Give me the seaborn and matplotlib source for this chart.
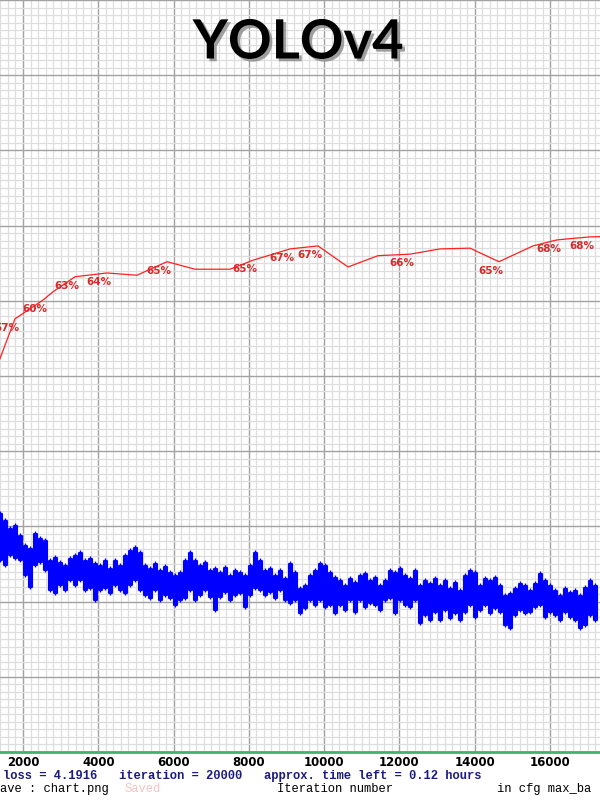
import matplotlib
matplotlib.use("Agg")
import matplotlib.pyplot as plt
import matplotlib.patheffects as pe
from matplotlib.ticker import MultipleLocator
import seaborn as sns

sns.set_theme(style="white")
plt.rcParams['font.family'] = ['DejaVu Sans']

# ---------------- data ----------------
title = "YOLOv4"

map_iter = [1176, 1787, 2531, 2797, 3381, 3727, 4231, 5028, 5825, 6569, 7499, 8110,
            9093, 9836, 10633, 11430, 12280, 13077, 13874, 14644, 15548, 16185, 17062, 17991]
map_pct = [49.5, 57.6, 60.1, 61.2, 63.2, 63.4, 63.7, 63.4, 65.2, 64.2, 64.2, 65.4,
           66.9, 67.3, 64.5, 66.0, 66.2, 66.9, 67.0, 65.2, 67.3, 68.1, 68.5, 68.6]
label_iter = [1787, 2531, 3381, 4231, 5825, 8110, 9093, 9836, 12280, 14644, 16185, 17062]
label_text = ["57%", "60%", "63%", "64%", "65%", "65%", "67%", "67%", "66%", "65%", "68%", "68%"]

loss_iter = [1389, 1522, 1655, 1787, 1920, 2053, 2186, 2319, 2452, 2584,
             2717, 2850, 2983, 3116, 3248, 3381, 3514, 3647, 3780, 3913,
             4045, 4178, 4311, 4444, 4577, 4710, 4842, 4975, 5108, 5241,
             5374, 5506, 5639, 5772, 5905, 6038, 6171, 6303, 6436, 6569,
             6702, 6835, 6967, 7100, 7233, 7366, 7499, 7632, 7764, 7897,
             8030, 8163, 8296, 8428, 8561, 8694, 8827, 8960, 9092, 9225,
             9358, 9491, 9624, 9757, 9889, 10022, 10155, 10288, 10421, 10553,
             10686, 10819, 10952, 11085, 11217, 11350, 11483, 11616, 11749, 11881,
             12014, 12147, 12280, 12413, 12546, 12678, 12811, 12944, 13077, 13210,
             13342, 13475, 13608, 13741, 13874, 14007, 14139, 14272, 14405, 14538,
             14671, 14803, 14936, 15069, 15202, 15335, 15467, 15600, 15733, 15866,
             15999, 16131, 16264, 16397, 16530, 16663, 16795, 16928, 17061, 17194]
loss_hi = [6.36, 6.17, 5.96, 6.04, 5.77, 5.51, 5.43, 5.82, 5.69, 5.64,
           5.11, 5.19, 5.05, 4.97, 5.16, 5.24, 5.32, 5.11, 5.16, 5.03,
           4.97, 5.11, 4.89, 5.11, 4.97, 5.24, 5.37, 5.45, 5.32, 4.97,
           4.89, 5.03, 4.84, 4.95, 4.79, 4.71, 4.79, 5.11, 5.32, 5.11,
           4.97, 5.05, 4.84, 4.89, 4.79, 4.92, 4.71, 4.84, 4.79, 4.71,
           4.97, 5.32, 5.11, 4.84, 4.89, 4.71, 4.84, 4.63, 5.03, 4.79,
           4.36, 4.44, 4.71, 4.84, 5.03, 4.97, 4.79, 4.65, 4.57, 4.44,
           4.63, 4.52, 4.71, 4.76, 4.57, 4.65, 4.44, 4.57, 4.84, 4.79,
           4.89, 4.71, 4.63, 4.84, 4.44, 4.57, 4.49, 4.63, 4.44, 4.57,
           4.36, 4.52, 4.31, 4.71, 4.84, 4.79, 4.44, 4.63, 4.57, 4.65,
           4.44, 4.18, 4.23, 4.36, 4.49, 4.44, 4.31, 4.49, 4.76, 4.57,
           4.44, 4.31, 4.18, 4.36, 4.26, 4.31, 4.18, 4.39, 4.57, 4.44]
loss_lo = [5.11, 4.97, 5.24, 5.16, 5.11, 4.71, 4.39, 4.97, 5.05, 4.84,
           4.31, 4.23, 4.44, 4.31, 4.57, 4.44, 4.57, 4.31, 4.36, 4.04,
           4.31, 4.36, 4.23, 4.44, 4.31, 4.23, 4.44, 4.57, 4.31, 4.18,
           4.10, 4.31, 4.04, 4.18, 4.10, 3.91, 4.04, 4.10, 4.31, 4.04,
           4.18, 4.31, 4.12, 3.78, 4.12, 4.26, 4.04, 4.18, 4.23, 3.86,
           4.18, 4.36, 4.31, 4.18, 4.26, 4.10, 4.31, 4.04, 3.96, 4.04,
           3.70, 3.83, 4.04, 3.91, 4.04, 3.86, 3.91, 3.70, 3.91, 3.78,
           4.04, 3.72, 4.04, 3.86, 3.96, 3.91, 3.78, 4.04, 4.10, 3.70,
           4.04, 3.91, 3.86, 4.04, 3.43, 3.64, 3.51, 3.72, 3.51, 3.78,
           3.56, 3.70, 3.51, 3.72, 3.91, 3.59, 3.78, 3.91, 3.70, 3.83,
           3.72, 3.38, 3.30, 3.64, 3.78, 3.70, 3.72, 3.86, 3.91, 3.59,
           3.72, 3.64, 3.51, 3.72, 3.59, 3.51, 3.30, 3.38, 3.64, 3.51]

x_ticks = [2000, 4000, 6000, 8000, 10000, 12000, 14000, 16000]
status_line = "loss = 4.1916   iteration = 20000   approx. time left = 0.12 hours"

# ---------------- figure ----------------
W, H = 600, 800
fig = plt.figure(figsize=(6, 8), dpi=100)
fig.patch.set_facecolor("white")
ax = fig.add_axes([0, 48 / H, 1, 752 / H])
ax.set_xlim(1389, 17327)
ax.set_ylim(0, 100)
ax.set_facecolor("white")

ax.xaxis.set_major_locator(MultipleLocator(2000))
ax.xaxis.set_minor_locator(MultipleLocator(200))
ax.yaxis.set_major_locator(MultipleLocator(10))
ax.yaxis.set_minor_locator(MultipleLocator(1))
ax.grid(which="minor", color="#dedede", linewidth=0.9)
ax.grid(which="major", color="#a2a2a2", linewidth=1.0)
ax.set_axisbelow(True)
for s in ["top", "left", "right"]:
    ax.spines[s].set_visible(False)
ax.spines["bottom"].set_color("#3cb371")
ax.spines["bottom"].set_linewidth(2.0)
ax.set_xticks(x_ticks)
ax.set_xticklabels([str(t) for t in x_ticks], fontsize=8.5, fontweight="bold", color="black")
ax.tick_params(axis="x", which="both", length=0, pad=3)
ax.tick_params(axis="y", which="both", length=0, labelleft=False)

# loss on twin axis (0..20)
ax2 = ax.twinx()
ax2.set_ylim(0, 20)
ax2.set_axis_off()
ax2.vlines(loss_iter, loss_lo, loss_hi, color="#0000ff", linewidth=3.7)
ax2.scatter(loss_iter, loss_hi, marker="+", s=7, color="#0000ff", linewidths=0.9)
ax2.scatter(loss_iter, loss_lo, marker="+", s=7, color="#0000ff", linewidths=0.9)

# mAP line
sns.lineplot(x=map_iter, y=map_pct, ax=ax, color="#ff2020", linewidth=0.9, sort=False)
for it, txt in zip(label_iter, label_text):
    p = map_pct[map_iter.index(it)]
    ax.annotate(txt, xy=(it, p), xytext=(-21, -12), textcoords="offset pixels",
                ha="left", va="baseline", fontsize=7.5, fontweight="bold", color="#d42a2a")

# title
fig.text(298 / W, 1 - 43 / H, title, ha="center", va="center", fontsize=39,
         family="Lato", fontweight="bold", color="black",
         path_effects=[pe.withSimplePatchShadow(offset=(2, -2), shadow_rgbFace="#888888", alpha=0.8)])

# bottom texts
fig.text(3 / W, 1 - 776 / H, status_line, ha="left", va="center", fontsize=8.7,
         family="Liberation Mono", fontweight="bold", color="#1c1c80")
fig.text(0 / W, 1 - 789 / H, "ave : chart.png", ha="left", va="center", fontsize=8.7,
         family="Liberation Mono", color="black")
fig.text(125 / W, 1 - 789 / H, "Saved", ha="left", va="center", fontsize=8.7,
         family="Liberation Mono", color="#f4c4c4")
fig.text(277 / W, 1 - 789 / H, "Iteration number", ha="left", va="center", fontsize=8.7,
         family="Liberation Mono", color="black")
fig.text(497 / W, 1 - 789 / H, "in cfg max_ba", ha="left", va="center", fontsize=8.7,
         family="Liberation Mono", color="black")

fig.savefig("out.png", dpi=100)
